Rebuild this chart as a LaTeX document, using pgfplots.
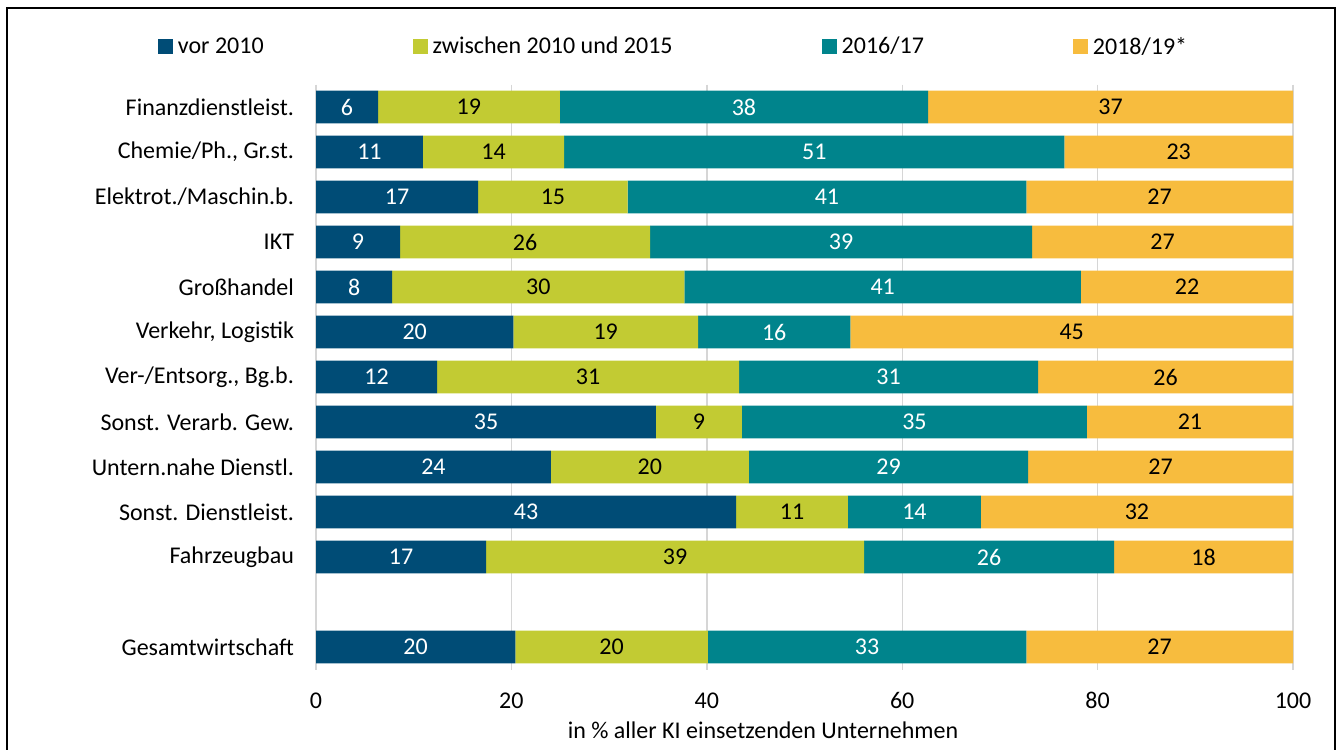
\documentclass[border=0pt]{standalone}
\usepackage{pgfplots}
\pgfplotsset{compat=1.18}
\usepackage{pgfplotstable}
\usepackage{fontspec}
\setmainfont{Carlito}
\definecolor{cA}{HTML}{004C76}
\definecolor{cB}{HTML}{C2CB33}
\definecolor{cC}{HTML}{00848C}
\definecolor{cD}{HTML}{F7BC3E}
\pgfkeys{/pgf/number format/assume math mode=true}
\pgfplotstableread{
y a b c d
0 6.35 18.6 37.7 37.35
1 10.95 14.45 51.2 23.4
2 16.6 15.3 40.8 27.3
3 8.6 25.6 39.1 26.7
4 7.8 29.9 40.6 21.7
5 20.2 18.9 15.6 45.3
6 12.4 30.9 30.6 26.1
7 34.8 8.8 35.3 21.1
8 24.05 20.25 28.6 27.1
9 43.0 11.45 13.6 31.95
10 17.4 38.7 25.6 18.3
12 20.4 19.7 32.6 27.3
}\data
\pgfplotsset{
  centered nodes/.style={
    nodes near coords={\pgfmathprintnumber[fixed,precision=0]{\pgfplotspointmeta}},
    every node near coord/.append style={anchor=center, font=\fontsize{12}{14}\selectfont},
  }
}
\begin{document}
\begin{tikzpicture}[x=1pt,y=1pt]
\useasboundingbox (0,0) rectangle (670,375);
\draw[line width=1.4pt] (3.5,371) rectangle (667.5,-20);
\begin{axis}[
  at={(158pt,40.25pt)}, anchor=south west,
  scale only axis, width=488.5pt, height=292.5pt,
  xbar stacked, bar width=0.73,
  xmin=0, xmax=100, ymin=-0.5, ymax=12.5, y dir=reverse,
  xtick={0,20,...,100},
  xmajorgrids, ymajorgrids=false,
  grid style={draw=black!16, line width=0.7pt},
  ytick={0,1,2,3,4,5,6,7,8,9,10,12},
  yticklabels={Finanzdienstleist., {Chemie/Ph., Gr.st.}, Elektrot./Maschin.b., IKT, Großhandel, {Verkehr, Logistik}, {Ver-/Entsorg., Bg.b.}, Sonst. Verarb. Gew., Untern.nahe Dienstl., Sonst. Dienstleist., Fahrzeugbau, Gesamtwirtschaft},
  axis line style={draw=none}, major tick length=0pt,
  tick label style={font=\fontsize{12}{14}\selectfont},
  xticklabel style={yshift=-8pt},
  yticklabel style={xshift=-7.5pt},
  /pgf/number format/assume math mode=true,
  xlabel={in \% aller KI einsetzenden Unternehmen},
  xlabel style={at={(axis description cs:0.4575,0)}, anchor=center, yshift=-30.5pt, font=\fontsize{12}{14}\selectfont},
  legend columns=4,
  legend style={at={(0.3675,1.064)}, anchor=center, draw=none, fill=none,
    font=\fontsize{12}{14}\selectfont, nodes={inner xsep=2.5pt},
    /tikz/every even column/.append style={column sep=72pt}},
  legend cell align=left,
  legend image code/.code={\fill[#1] (0pt,-3.6pt) rectangle (7.5pt,3.9pt);},
  centered nodes,
]
\addplot[fill=cA, draw=none, every node near coord/.append style={text=white}] table[x=a,y=y]{\data};
\addplot[fill=cB, draw=none, every node near coord/.append style={text=black}] table[x=b,y=y]{\data};
\addplot[fill=cC, draw=none, every node near coord/.append style={text=white}] table[x=c,y=y]{\data};
\addplot[fill=cD, draw=none, every node near coord/.append style={text=black}] table[x=d,y=y]{\data};
\legend{vor 2010, zwischen 2010 und 2015, 2016/17, 2018/19*}
\end{axis}
\end{tikzpicture}
\end{document}
